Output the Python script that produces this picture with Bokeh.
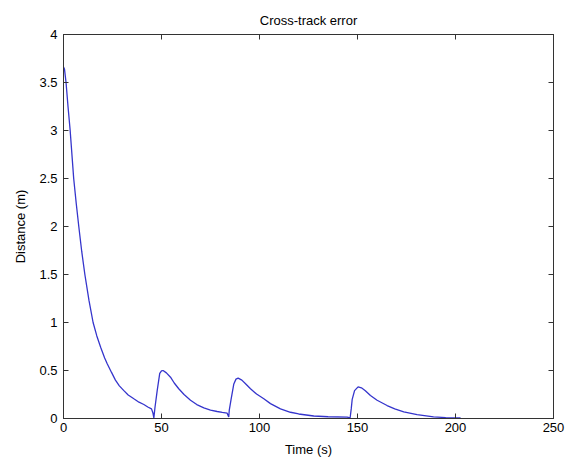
from bokeh.plotting import figure
from bokeh.models import LinearAxis, FixedTicker, Range1d
from bokeh.embed import file_html
from bokeh.resources import INLINE

# Data
time_s = [0, 0.5, 1.3, 2.3, 3.4, 5.2, 6.5, 7.8, 9.3, 10.9, 13, 15.1, 17, 19, 21, 22.3, 24.5, 26.5, 28.5,
          30.8, 33, 35.9, 38.5, 41, 43, 44.9, 45.6, 46.1, 46.7, 47.8, 49.1, 50, 50.8, 52.5, 54.6,
          56.5, 58.8, 61.5, 64.8, 68, 71.6, 75, 78.4, 81, 83.5, 84.3, 84.6, 85.5, 86.9, 88, 89.1,
          91, 93, 95.4, 98.5, 102.2, 105.6, 110.7, 115.8, 120, 127.7, 135, 144.7, 145.8, 146.2,
          146.8, 147.3, 148.5, 150.3, 152, 154, 156.6, 160, 165.1, 169, 173.6, 180.4, 188.8, 195, 202.6]
distance_m = [3.66, 3.64, 3.5, 3.25, 3.0, 2.5, 2.24, 2.0, 1.74, 1.5, 1.23, 1.0, 0.86, 0.74, 0.63, 0.57, 0.48, 0.40, 0.34,
              0.29, 0.245, 0.205, 0.17, 0.146, 0.12, 0.10, 0.06, 0.007, 0.12, 0.29, 0.47, 0.495, 0.5, 0.475, 0.43,
              0.37, 0.31, 0.25, 0.19, 0.145, 0.11, 0.088, 0.073, 0.063, 0.055, 0.015, 0.09, 0.2, 0.36, 0.41, 0.42,
              0.4, 0.36, 0.31, 0.255, 0.205, 0.155, 0.1, 0.065, 0.047, 0.026, 0.018, 0.014, 0.008, 0.0,
              0.1, 0.2, 0.29, 0.33, 0.32, 0.29, 0.24, 0.19, 0.135, 0.1, 0.07, 0.04, 0.016, 0.01, 0.007]

x_ticks = [0, 50, 100, 150, 200, 250]
x_tick_labels = ["0", "50", "100", "150", "200", "250"]
y_ticks = [0, 0.5, 1, 1.5, 2, 2.5, 3, 3.5, 4]
y_tick_labels = ["0", "0.5", "1", "1.5", "2", "2.5", "3", "3.5", "4"]

FONT = "Liberation Sans"
AX = "#333333"

p = figure(width=572, height=459, x_range=Range1d(0, 250), y_range=Range1d(0, 4),
           output_backend="svg", toolbar_location=None, title="Cross-track error",
           min_border_left=63, min_border_right=19, min_border_top=34, min_border_bottom=41)
p.background_fill_color = "white"
p.border_fill_color = "white"
p.grid.visible = False
p.outline_line_color = AX
p.outline_line_width = 1

p.title.align = "center"
p.title.vertical_align = "top"
p.title.text_font = FONT
p.title.text_font_size = "13px"
p.title.text_font_style = "normal"
p.title.text_color = "black"


def style(ax, ticks, labels, show_labels=True):
    ax.ticker = FixedTicker(ticks=ticks)
    ax.major_label_overrides = {t: l for t, l in zip(ticks, labels)}
    ax.major_tick_in = 5
    ax.major_tick_out = 0
    ax.minor_tick_in = 0
    ax.minor_tick_out = 0
    ax.axis_line_color = AX
    ax.major_tick_line_color = AX
    ax.major_label_text_font = FONT
    ax.axis_label_text_font = FONT
    ax.axis_label_text_font_style = "normal"
    ax.axis_label_text_color = "black"
    ax.axis_label_text_font_size = "13px"
    if show_labels:
        ax.major_label_text_color = "black"
        ax.major_label_text_font_size = "13px"
        ax.major_label_standoff = 4
        ax.axis_label_standoff = 7
    else:
        ax.major_label_text_color = None
        ax.major_label_text_font_size = "1px"
        ax.major_label_standoff = 0


style(p.xaxis[0], x_ticks, x_tick_labels)
style(p.yaxis[0], y_ticks, y_tick_labels)
p.xaxis[0].axis_label = "Time (s)"
p.yaxis[0].axis_label = "Distance (m)"
p.yaxis[0].major_label_standoff = 6
p.yaxis[0].axis_label_standoff = 8

top = LinearAxis()
style(top, x_ticks, x_tick_labels, show_labels=False)
p.add_layout(top, "above")
right = LinearAxis()
style(right, y_ticks, y_tick_labels, show_labels=False)
p.add_layout(right, "right")

p.line(time_s, distance_m, line_color="#3535cc", line_width=1.3)

open("out.html", "w").write(file_html(p, INLINE))
